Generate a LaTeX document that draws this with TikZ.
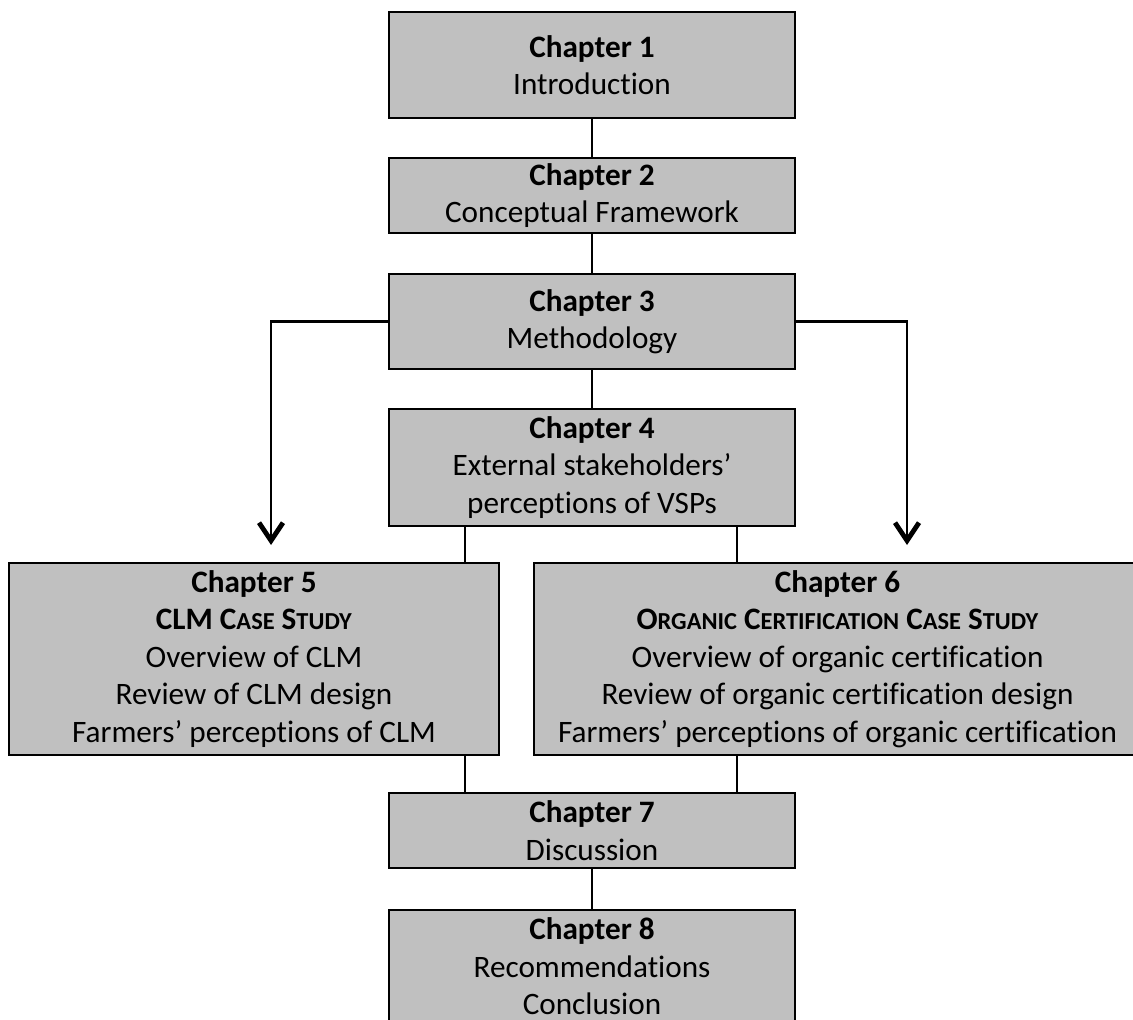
\documentclass[tikz,border=0pt]{standalone}
\usepackage{fontspec}
\setmainfont[Ligatures=NoCommon]{Carlito}
\usetikzlibrary{arrows.meta}
\definecolor{boxgray}{RGB}{192,192,192}
% faked small capitals for the case-study titles
\newcommand\fsc[1]{{\fontsize{12.2}{12.2}\selectfont #1}}
\begin{document}
\begin{tikzpicture}[x=0.5pt,y=-0.5pt,
  chapbox/.style={draw=black, line width=1.3pt, fill=boxgray, inner sep=0pt, outer sep=0pt,
    align=center, font=\fontsize{15.6}{18.75}\selectfont, minimum width=203pt},
  link/.style={line width=1.2pt},
  branch/.style={line width=1.2pt, line join=miter,
    -{Straight Barb[length=9pt,width=12pt,line width=2.4pt]}}
]
\useasboundingbox (0,0) rectangle (1133,1020);

\node[chapbox, minimum height=53pt]   (c1) at (592,65)    {\textbf{Chapter 1}\\Introduction};
\node[chapbox, minimum height=37.5pt] (c2) at (592,195.5) {\textbf{Chapter 2}\\Conceptual Framework};
\node[chapbox, minimum height=47.5pt] (c3) at (592,321.5) {\textbf{Chapter 3}\\Methodology};
\node[chapbox, minimum height=58.5pt] (c4) at (592,467.5) {\textbf{Chapter 4}\\External stakeholders’\\perceptions of VSPs};
\node[chapbox, minimum height=96pt, minimum width=245pt] (c5) at (254,659)
  {\textbf{Chapter 5}\\\textbf{CLM C\fsc{ASE} S\fsc{TUDY}}\\Overview of CLM\\Review of CLM design\\Farmers’ perceptions of CLM};
\node[chapbox, minimum height=96pt, minimum width=303.5pt] (c6) at (837.5,659)
  {\textbf{Chapter 6}\\\textbf{O\fsc{RGANIC} C\fsc{ERTIFICATION} C\fsc{ASE} S\fsc{TUDY}}\\Overview of organic certification\\Review of organic certification design\\Farmers’ perceptions of organic certification};
\node[chapbox, minimum height=37.5pt] (c7) at (592,830.5) {\textbf{Chapter 7}\\Discussion};
\node[chapbox, minimum height=56.5pt] (c8) at (592,966.5) {\textbf{Chapter 8}\\Recommendations\\Conclusion};

% straight links down the main column
\draw[link] (c1) -- (c2);
\draw[link] (c2) -- (c3);
\draw[link] (c3) -- (c4);
\draw[link] (c7) -- (c8);

% links into and out of the two case studies
\coordinate (xl) at (465,0);
\coordinate (xr) at (737,0);
\draw[link] (c4.south -| xl) -- (c5.north -| xl);
\draw[link] (c4.south -| xr) -- (c6.north -| xr);
\draw[link] (c5.south -| xl) -- (c7.north -| xl);
\draw[link] (c6.south -| xr) -- (c7.north -| xr);

% branches from the methodology
\coordinate (tipL) at (271,545);
\coordinate (tipR) at (907,545);
\draw[branch] (c3.west) -| (tipL);
\draw[branch] (c3.east) -| (tipR);
\end{tikzpicture}
\end{document}
